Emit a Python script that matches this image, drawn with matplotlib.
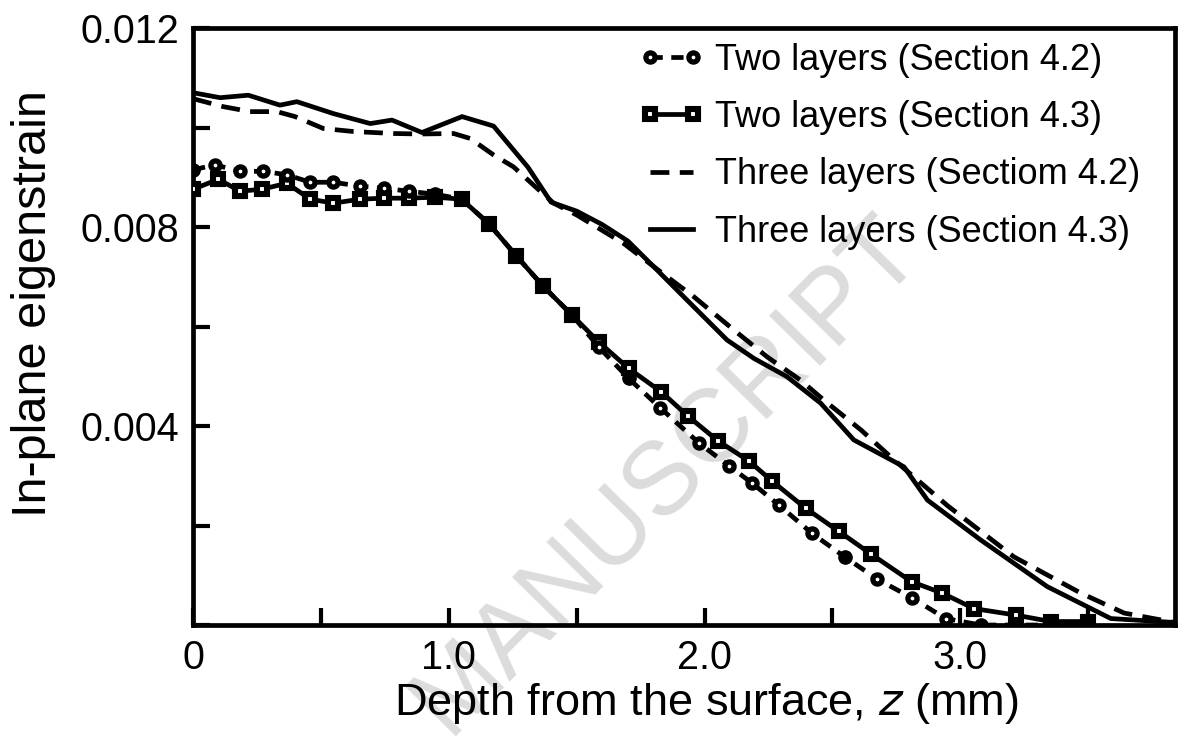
import matplotlib
matplotlib.use("Agg")
import matplotlib.pyplot as plt

plt.rcParams['font.family'] = ['Liberation Sans', 'DejaVu Sans']

# ---- data (depth in mm, eigenstrain x 1e-3) ----
two42_x = [0, 0.086, 0.184, 0.275, 0.367, 0.458, 0.549, 0.654, 0.745, 0.843, 0.947, 1.05,
           1.156, 1.264, 1.369, 1.482, 1.586, 1.703, 1.826, 1.978, 2.095, 2.187, 2.291,
           2.421, 2.548, 2.676, 2.810, 2.943, 3.08, 3.217, 3.354, 3.498]
two42_y = [9.15, 9.25, 9.12, 9.12, 9.05, 8.90, 8.90, 8.82, 8.78, 8.72, 8.66, 8.56,
           8.07, 7.42, 6.81, 6.23, 5.59, 4.96, 4.37, 3.66, 3.20, 2.85, 2.41,
           1.84, 1.37, 0.92, 0.55, 0.13, 0.0, 0.0, 0.0, 0.0]
# points of the circle series that appear as solid dots in the reference
two42_solid = [0, 10, 11, 12, 13, 14, 15, 17, 24, 28, 29, 30, 31]

two43_x = [0, 0.099, 0.184, 0.269, 0.367, 0.458, 0.549, 0.654, 0.745, 0.843, 0.947, 1.05,
           1.156, 1.264, 1.369, 1.482, 1.586, 1.703, 1.830, 1.935, 2.053, 2.173, 2.265,
           2.395, 2.526, 2.653, 2.810, 2.93, 3.054, 3.217, 3.354, 3.498]
two43_y = [8.76, 8.96, 8.72, 8.76, 8.88, 8.56, 8.48, 8.56, 8.58, 8.58, 8.60, 8.56,
           8.07, 7.42, 6.81, 6.23, 5.69, 5.16, 4.69, 4.20, 3.70, 3.30, 2.89,
           2.35, 1.88, 1.42, 0.87, 0.64, 0.33, 0.20, 0.07, 0.07]

three42_x = [0.0, 0.118, 0.223, 0.328, 0.399, 0.51, 0.627, 0.784, 0.888, 1.019, 1.084,
             1.175, 1.253, 1.345, 1.41, 1.501, 1.684, 1.828, 1.958, 2.115, 2.245,
             2.376, 2.467, 2.612, 2.741, 2.95, 3.21, 3.472, 3.641, 3.84]
three42_y = [10.58, 10.42, 10.32, 10.32, 10.22, 9.98, 9.92, 9.88, 9.87, 9.88, 9.78,
             9.45, 9.21, 8.78, 8.48, 8.24, 7.67, 7.10, 6.60, 5.93, 5.39,
             4.92, 4.52, 3.92, 3.32, 2.40, 1.37, 0.64, 0.24, 0.05]

three43_x = [0.0, 0.106, 0.216, 0.34, 0.406, 0.549, 0.693, 0.778, 0.895, 1.052, 1.175,
             1.31, 1.40, 1.50, 1.60, 1.70, 1.802, 1.932, 2.088, 2.193, 2.323, 2.454,
             2.584, 2.78, 2.872, 3.08, 3.341, 3.589, 3.84]
three43_y = [10.70, 10.60, 10.65, 10.45, 10.52, 10.28, 10.08, 10.15, 9.90, 10.22, 10.03,
             9.20, 8.50, 8.32, 8.05, 7.72, 7.20, 6.53, 5.73, 5.36, 4.99, 4.46,
             3.72, 3.18, 2.51, 1.71, 0.77, 0.13, 0.05]

labels = ["Two layers (Section 4.2)", "Two layers (Section 4.3)",
          "Three layers (Sectiom 4.2)", "Three layers (Section 4.3)"]

xticks = [0, 0.5, 1.0, 1.5, 2.0, 2.5, 3.0, 3.5]
xticklabels = ["0", "", "1.0", "", "2.0", "", "3.0", ""]
yticks = [0, 0.002, 0.004, 0.006, 0.008, 0.010, 0.012]
yticklabels = ["", "", "0.004", "", "0.008", "", "0.012"]

scale = 1e-3

fig = plt.figure(figsize=(11.8, 7.38), dpi=100)
ax = fig.add_axes([0.1636, 0.1531, 0.8322, 0.8089])
ax.set_facecolor('none')

# watermark
fig.text(0.565, 0.355, "MANUSCRIPT", rotation=45.5, fontsize=74, color='#dcdcdc',
         ha='center', va='center', zorder=-1, rotation_mode='anchor')

lw = 3.4
two42_yv = [v * scale for v in two42_y]
ax.plot(two42_x, two42_yv, color='black', lw=lw, ls=(0, (2.6, 1.8)),
        marker='o', ms=6.6, mew=3.8, mfc='white', mec='black', label=labels[0], zorder=4)
ax.plot([two42_x[i] for i in two42_solid], [two42_yv[i] for i in two42_solid],
        ls='none', marker='o', ms=10.0, mew=0, mfc='black', zorder=5)
ax.plot(two43_x, [v * scale for v in two43_y], color='black', lw=lw, ls='-',
        marker='s', ms=6.6, mew=4.4, mfc='white', mec='black', label=labels[1], zorder=3)
ax.plot(three42_x, [v * scale for v in three42_y], color='black', lw=lw, ls=(0, (4.0, 2.2)),
        label=labels[2], zorder=2)
ax.plot(three43_x, [v * scale for v in three43_y], color='black', lw=lw, ls='-',
        label=labels[3], zorder=2)

ax.set_xlim(0, 3.84)
ax.set_ylim(0, 0.012)
ax.set_xticks(xticks)
ax.set_xticklabels(xticklabels)
ax.set_yticks(yticks)
ax.set_yticklabels(yticklabels)

ax.tick_params(axis='both', direction='in', length=12, width=3, labelsize=28.5)
ax.tick_params(axis='x', pad=10)
ax.tick_params(axis='y', pad=10)
for s in ax.spines.values():
    s.set_linewidth(3.4)

ax.set_xlabel("Depth from the surface, $\\mathit{z}$ (mm)", fontsize=32.5)
ax.xaxis.set_label_coords(0.523, -0.093)
ax.set_ylabel("In-plane eigenstrain", fontsize=35)
ax.yaxis.set_label_coords(-0.140, 0.539)

leg = ax.legend(loc='upper left', bbox_to_anchor=(0.432, 1.012), frameon=False,
                fontsize=26, handlelength=1.8, handletextpad=0.3, labelspacing=0.62,
                numpoints=2, borderaxespad=0.2)

fig.savefig("out.png", dpi=100)
